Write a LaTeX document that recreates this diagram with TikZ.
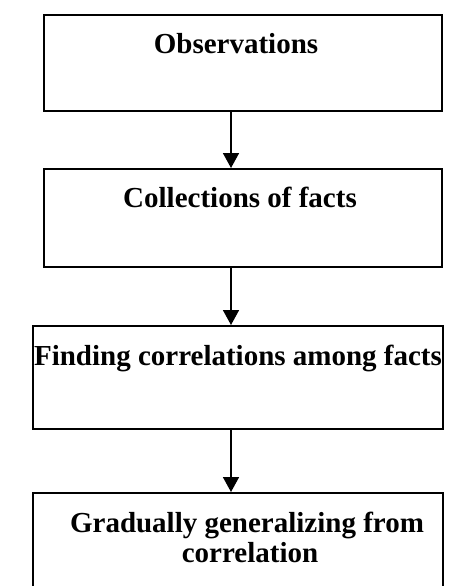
\documentclass[tikz,border=0pt]{standalone}
\usepackage{fontspec}
\setmainfont{Liberation Serif}
\usetikzlibrary{arrows.meta}
\begin{document}
\begin{tikzpicture}[x=1pt,y=-1pt,
  stepbox/.style={draw, line width=1.7pt, inner sep=0pt, anchor=north west},
  steptext/.style={font=\bfseries\fontsize{29}{30}\selectfont, anchor=base, inner sep=0pt},
  flow/.style={line width=1.7pt, -{Triangle[length=15pt,width=16pt]}}]
\useasboundingbox (0,0) rectangle (472,586);
\clip (0,0) rectangle (472,586);
% the four stages
\node[stepbox, minimum width=398pt, minimum height=96pt]  (b1) at (43,14)  {};
\node[stepbox, minimum width=398pt, minimum height=98pt]  (b2) at (43,168) {};
\node[stepbox, minimum width=410pt, minimum height=103pt] (b3) at (32,325) {};
\node[stepbox, minimum width=410pt, minimum height=110pt] (b4) at (32,492) {};
% stage labels
\node[steptext] (t1)  at (236,53)  {Observations};
\node[steptext] (t2)  at (240,207) {Collections of facts};
\node[steptext] (t3)  at (238,365) {Finding correlations among facts};
\node[steptext] (t4a) at (247,532) {Gradually generalizing from};
\node[steptext] (t4b) at (250,562) {correlation};
% arrows between stages
\coordinate (ax) at (231,0);
\draw[flow] (b1.south -| ax) -- (b2.north -| ax);
\draw[flow] (b2.south -| ax) -- (b3.north -| ax);
\draw[flow] (b3.south -| ax) -- (b4.north -| ax);
\end{tikzpicture}
\end{document}
